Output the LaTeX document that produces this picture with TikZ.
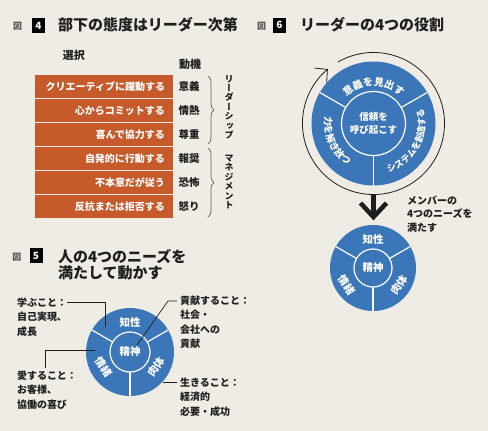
\documentclass[tikz,border=0pt]{standalone}
\usepackage{fontspec}
\setmainfont{Noto Sans CJK JP}
\newfontfamily\vjp{Noto Sans CJK JP}[RawFeature=+vert]
\usetikzlibrary{decorations.pathreplacing,decorations.text,arrows.meta,calc}
\definecolor{bg}{HTML}{EFECE5}
\definecolor{orng}{HTML}{C65A2B}
\definecolor{blu}{HTML}{3B76B9}
\definecolor{ink}{HTML}{1E1E1E}
\newcommand{\fsz}[2]{\fontsize{#1}{#2}\selectfont}
\newcommand{\arcA}{\bfseries\fontsize{10}{10}\selectfont}
\newcommand{\arcB}{\bfseries\fontsize{9}{9}\selectfont}
\newcommand{\arcC}{\bfseries\fontsize{9.5}{9.5}\selectfont}
\begin{document}
\begin{tikzpicture}[x=1pt,y=-1pt,
 every node/.style={inner sep=0pt, outer sep=0pt},
 ttl/.style={font=\bfseries\fsz{15}{15}, text=ink, anchor=west},
 zu/.style={font=\bfseries\fsz{9}{9}, text=ink!75},
 numbox/.style={fill=black, text=white, minimum width=13pt, minimum height=15pt, font=\bfseries\fsz{10}{10}},
 bar/.style={fill=orng, text=white, anchor=north west, minimum height=23pt, text width=122pt, inner xsep=8pt, align=right, font=\bfseries\fsz{10}{10}},
 mot/.style={font=\bfseries\fsz{10.5}{10.5}, text=ink},
 hdr/.style={font=\bfseries\fsz{11}{11}, text=ink},
 vtext/.style={font=\vjp\bfseries\fsz{9}{9.4}, text=ink, align=center},
 brc/.style={decorate, decoration={brace, amplitude=6pt}, draw=ink!70, line width=0.7pt},
 lbl/.style={font=\bfseries\fsz{10}{14.5}, text=ink, align=left, anchor=north west},
 lead/.style={draw=ink, line width=0.7pt},
 disc/.style={circle, fill=blu, inner sep=0pt},
 hub/.style={circle, draw=white, line width=1.2pt, fill=blu, text=white, align=center},
 spoke/.style={draw=white, line width=1.2pt},
 seg/.style={text=white, font=\bfseries\fsz{10.5}{10.5}},
 arctext/.style={decorate, decoration={text along path, text align=center, text color=white, text={#1}}},
]
\fill[bg] (0,0) rectangle (488,431);
\useasboundingbox (0,0) rectangle (488,431);

% ---------- Figure 4 ----------
\node[zu] (z4) at (17.5,26) {図};
\node[numbox] (n4) at (38.5,25.5) {4};
\node[ttl] (t4) at (58,25) {部下の態度はリーダー次第};
\node[hdr] (sel) at (74,55) {選択};
\node[hdr] (dou) at (190,64) {動機};

\node[bar] (b1) at (35,75)  {クリエーティブに躍動する};
\node[bar] (b2) at (35,99)  {心からコミットする};
\node[bar] (b3) at (35,123) {喜んで協力する};
\node[bar] (b4) at (35,147) {自発的に行動する};
\node[bar] (b5) at (35,171) {不本意だが従う};
\node[bar] (b6) at (35,195) {反抗または拒否する};

\node[mot] (m1) at (189,86.5)  {意義};
\node[mot] (m2) at (189,110.5) {情熱};
\node[mot] (m3) at (189,134.5) {尊重};
\node[mot] (m4) at (189,158.5) {報奨};
\node[mot] (m5) at (189,182.5) {恐怖};
\node[mot] (m6) at (189,206.5) {怒り};

\coordinate (br1a) at (208,76);
\coordinate (br1b) at (208,144);
\coordinate (br2a) at (208,148);
\coordinate (br2b) at (208,217);
\draw[brc] (br1a) -- (br1b);
\draw[brc] (br2a) -- (br2b);

\node[vtext] (lead) at (229,107) {リ\\ー\\ダ\\ー\\シ\\ッ\\プ};
\node[vtext] (mgmt) at (229,182) {マ\\ネ\\ジ\\メ\\ン\\ト};

% ---------- Figure 5 ----------
\node[zu] (z5) at (17,257) {図};
\node[numbox] (n5) at (36,255.5) {5};
\node[ttl] (t5a) at (58,257) {人の4つのニーズを};
\node[ttl] (t5b) at (58,273) {満たして動かす};

\node[disc, minimum size=88pt] (C5) at (130,352) {};
\node[hub, minimum size=40pt, font=\bfseries\fsz{10.5}{10.5}] (I5) at (130,352) {精神};
\draw[spoke] (I5.150) -- (C5.150);
\draw[spoke] (I5.30) -- (C5.30);
\draw[spoke] (I5.270) -- (C5.270);
\node[seg] (k5) at (130,323) {知性};
\node[seg, rotate=-55] (j5) at (104,367) {情緒};
\node[seg, rotate=55] (n5b) at (156,367) {肉体};

\node[lbl] (q1) at (17,297.5) {学ぶこと：\\自己実現、\\成長};
\node[lbl] (q2) at (180,295.5) {貢献すること：\\社会・\\会社への\\貢献};
\node[lbl] (q3) at (17,370.5) {愛すること：\\お客様、\\協働の喜び};
\node[lbl] (q4) at (180,377.5) {生きること：\\経済的\\必要・成功};

\coordinate (p1a) at (67,302);
\coordinate (p1b) at (105,302);
\coordinate (p1c) at (105,327);
\draw[lead] (p1a) -- (p1b) -- (p1c);
\coordinate (p2a) at (177,301);
\coordinate (p2b) at (168,301);
\coordinate (p2c) at (137,345);
\draw[lead] (p2a) -- (p2b) -- (p2c);
\coordinate (p3a) at (45,368);
\coordinate (p3b) at (45,350);
\coordinate (p3c) at (95,350);
\draw[lead] (p3a) -- (p3b) -- (p3c);
\coordinate (p4a) at (163,382);
\coordinate (p4b) at (177,382);
\draw[lead] (p4a) -- (p4b);

% ---------- Figure 6 ----------
\node[zu] (z6) at (261.5,26) {図};
\node[numbox] (n6) at (279.5,25) {6};
\node[ttl] (t6) at (300,25) {リーダーの4つの役割};

\node[disc, minimum size=124pt] (C6) at (373.5,123.5) {};
\node[hub, minimum size=64pt, font=\bfseries\fsz{9.5}{13}] (I6) at (373.5,123.5) {信頼を\\呼び起こす};
\draw[spoke] (I6.150) -- (C6.150);
\draw[spoke] (I6.30) -- (C6.30);
\draw[spoke] (I6.270) -- (C6.270);

\path[arctext={|\arcA|意義を見出す}] ($(C6)+(-160:38)$) arc[start angle=-160, end angle=-20, radius=38];
\path[arctext={|\arcB|システムを創造する}] ($(C6)+(100:51.5)$) arc[start angle=100, end angle=-44, radius=51.5];
\path[arctext={|\arcC|力を解き放つ}] ($(C6)+(-150:49)$) arc[start angle=-150, end angle=-260, radius=49];

\draw[ink, line width=0.8pt, -{Straight Barb[length=9pt,width=19pt]}] ($(C6)+(-120:71)$) arc[start angle=-120, end angle=230, radius=71];

\coordinate (aT) at (373.5,195);
\coordinate (aB) at (373.5,217);
\draw[line width=4.6pt, draw=ink] (aT) -- (aB);
\draw[line width=4.6pt, draw=ink, line join=miter, miter limit=4] ($(aB)+(-13,-14)$) -- (aB) -- ($(aB)+(13,-14)$);

\node[lbl, font=\bfseries\fsz{10}{13.5}] (mem) at (407,195.5) {メンバーの\\4つのニーズを\\満たす};

\node[disc, minimum size=86pt] (C7) at (373,268) {};
\node[hub, minimum size=38pt, font=\bfseries\fsz{10.5}{10.5}] (I7) at (373,268) {精神};
\draw[spoke] (I7.150) -- (C7.150);
\draw[spoke] (I7.30) -- (C7.30);
\draw[spoke] (I7.270) -- (C7.270);
\node[seg] (k7) at (373,240) {知性};
\node[seg, rotate=-55] (j7) at (347,285) {情緒};
\node[seg, rotate=55] (n7) at (399,285) {肉体};
\end{tikzpicture}
\end{document}
